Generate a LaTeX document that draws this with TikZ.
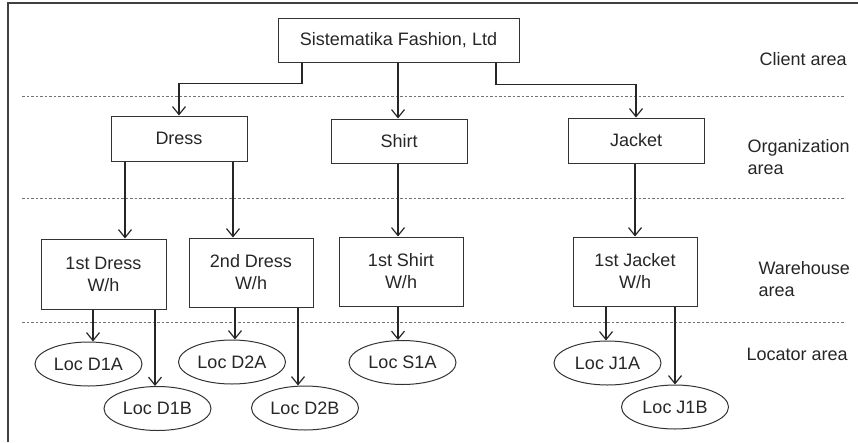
\documentclass[tikz,border=0pt]{standalone}
\usepackage{fontspec}
\setmainfont{Liberation Sans}
\usetikzlibrary{arrows.meta,shapes.geometric}
\begin{document}
\begin{tikzpicture}[x=1pt,y=-1pt,
  every node/.style={font=\fontsize{18}{22}\selectfont, text=black!85},
  box/.style={draw=black!80, line width=1pt, rectangle, inner sep=0pt, align=center},
  loc/.style={draw=black!80, line width=1pt, ellipse, inner sep=0pt, minimum width=107pt, minimum height=44pt},
  arr/.style={draw=black!85, line width=1.2pt, -{Straight Barb[length=8pt,width=13pt,line width=1.2pt]}},
  sep/.style={draw=black!55, line width=0.9pt, dash pattern=on 2.5pt off 2pt},
  lab/.style={anchor=west, align=left}]
\useasboundingbox (0,0) rectangle (858,442);
% frame
\draw[black!75, line width=1.5pt] (8,442) -- (8,3) -- (858,3);
% separators
\draw[sep] (22,96) -- (845,96);
\draw[sep] (22,198) -- (845,198);
\draw[sep] (22,322) -- (845,322);
% boxes
\node[box, minimum width=241pt, minimum height=44pt] (root) at (398.5,40) {Sistematika Fashion, Ltd};
\node[box, minimum width=136pt, minimum height=45pt] (dress) at (179,138.5) {Dress};
\node[box, minimum width=136pt, minimum height=44pt] (shirt) at (399,141) {Shirt};
\node[box, minimum width=136pt, minimum height=45pt] (jacket) at (636,140.5) {Jacket};
\node[box, minimum width=125pt, minimum height=70pt] (wd1) at (103.5,274) {1st Dress\\W/h};
\node[box, minimum width=124pt, minimum height=69pt] (wd2) at (251,272.5) {2nd Dress\\W/h};
\node[box, minimum width=124pt, minimum height=69pt] (ws) at (401,271.5) {1st Shirt\\W/h};
\node[box, minimum width=124pt, minimum height=69pt] (wj) at (635,271.5) {1st Jacket\\W/h};
% ellipses
\node[loc] (d1a) at (88.5,364) {Loc D1A};
\node[loc] (d1b) at (157.5,408.5) {Loc D1B};
\node[loc] (d2a) at (232,362) {Loc D2A};
\node[loc] (d2b) at (305,408) {Loc D2B};
\node[loc] (s1a) at (402.5,362.5) {Loc S1A};
\node[loc] (j1a) at (607.5,363) {Loc J1A};
\node[loc] (j1b) at (675,407) {Loc J1B};
% labels
\node[lab] (l1) at (756,59) {Client area};
\node[lab] (l2) at (744,157) {Organization\\area};
\node[lab] (l3) at (755,279) {Warehouse\\area};
\node[lab] (l4) at (743,354) {Locator area};
% connectors
\draw[arr] ([xshift=-96.5pt]root.south) -- ++(0,21) -| (dress.north);
\draw[arr] ([xshift=-0.5pt]root.south) -- ([xshift=-1pt]shirt.north);
\draw[arr] ([xshift=97.5pt]root.south) -- ++(0,22) -| (jacket.north);
\draw[arr] ([xshift=-54pt]dress.south) -- ([xshift=21.5pt]wd1.north);
\draw[arr] ([xshift=54pt]dress.south) -- ([xshift=-18pt]wd2.north);
\draw[arr] ([xshift=-1pt]shirt.south) -- ([xshift=-3pt]ws.north);
\draw[arr] ([xshift=-1pt]jacket.south) -- (wj.north);
\draw[arr] ([xshift=-10.5pt]wd1.south) -- ([xshift=4.5pt]d1a.north);
\draw[arr] ([xshift=51.5pt]wd1.south) -- ([xshift=-2.5pt]d1b.north);
\draw[arr] ([xshift=-16pt]wd2.south) -- ([xshift=3pt]d2a.north);
\draw[arr] ([xshift=47pt]wd2.south) -- ([xshift=-7pt]d2b.north);
\draw[arr] ([xshift=-3pt]ws.south) -- ([xshift=-4.5pt]s1a.north);
\draw[arr] ([xshift=-29pt]wj.south) -- ([xshift=-1.5pt]j1a.north);
\draw[arr] ([xshift=40pt]wj.south) -- (j1b.north);
\end{tikzpicture}
\end{document}
